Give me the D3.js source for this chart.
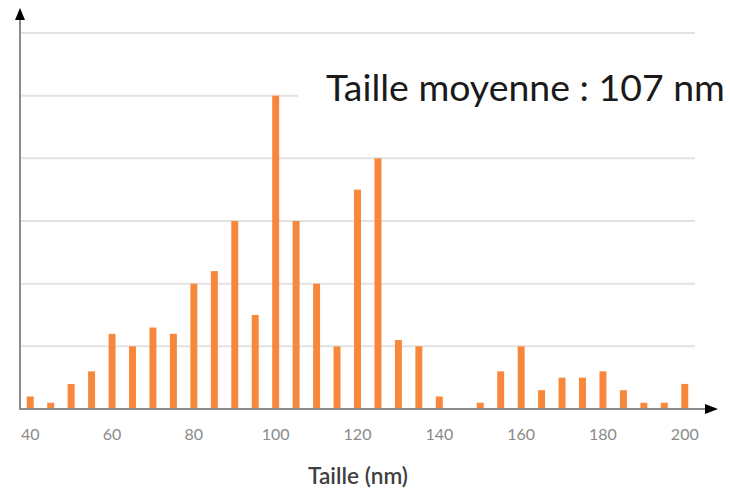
<!DOCTYPE html>
<html>
<head>
<meta charset="utf-8">
<script src="https://cdn.jsdelivr.net/npm/d3@7"></script>
<style>
  html, body { margin: 0; padding: 0; background: #fff; }
  svg { display: block; }
</style>
</head>
<body>
<svg id="chart" width="730" height="488"></svg>
<script>
// Data
const sizes = [40,45,50,55,60,65,70,75,80,85,90,95,100,105,110,115,120,125,130,135,140,145,150,155,160,165,170,175,180,185,190,195,200];
const counts = [2,1,4,6,12,10,13,12,20,22,30,15,50,30,20,10,35,40,11,10,2,0,1,6,10,3,5,5,6,3,1,1,4];
const tickLabels = [40,60,80,100,120,140,160,180,200];
const gridValues = [10,20,30,40,50,60];
const titleText = "Taille moyenne : 107 nm";
const xTitle = "Taille (nm)";

(function () {
const svg = d3.select("#chart");
const plotLeft = 20, plotRight = 695, plotBase = 409, plotTop = 33;

const x = d3.scaleBand().domain(sizes).range([plotLeft, plotRight]).paddingInner(0.66).paddingOuter(0.33);
const y = d3.scaleLinear().domain([0, 60]).range([plotBase, plotTop]);

// gridlines
svg.append("g").selectAll("line").data(gridValues).join("line")
  .attr("x1", plotLeft).attr("x2", plotRight)
  .attr("y1", d => y(d)).attr("y2", d => y(d))
  .attr("stroke", "#e2e2e2").attr("stroke-width", 2);

// bars
svg.append("g").selectAll("rect").data(sizes).join("rect")
  .attr("x", d => x(d))
  .attr("width", x.bandwidth())
  .attr("y", (d, i) => y(counts[i]))
  .attr("height", (d, i) => plotBase - y(counts[i]))
  .attr("fill", "#f7873a");

// title box (white, hides grid behind)
const tg = svg.append("g");
tg.append("rect").attr("x", 298).attr("y", 58).attr("width", 432).attr("height", 62).attr("fill", "#fff");
const tt = tg.append("text")
  .attr("x", 326).attr("y", 101)
  .attr("font-family", "Lato, 'Open Sans', sans-serif")
  .attr("font-size", 36)
  .attr("fill", "#1a1a1a")
  .text(titleText);
const w = tt.node().getComputedTextLength();
tt.attr("font-size", 36 * 399 / w);

// axes lines
svg.append("line").attr("x1", plotLeft).attr("x2", plotLeft).attr("y1", 18).attr("y2", plotBase + 1)
  .attr("stroke", "#8c8c8c").attr("stroke-width", 2);
svg.append("line").attr("x1", plotLeft - 1).attr("x2", 706).attr("y1", plotBase).attr("y2", plotBase)
  .attr("stroke", "#8c8c8c").attr("stroke-width", 2);
// arrows
svg.append("path").attr("d", `M${plotLeft - 5},20 L${plotLeft},8 L${plotLeft + 5},20 Z`).attr("fill", "#000");
svg.append("path").attr("d", `M705,${plotBase - 5} L718,${plotBase} L705,${plotBase + 5} Z`).attr("fill", "#000");

// x tick labels via axis
const xAxis = d3.axisBottom(x).tickValues(tickLabels).tickSize(0).tickPadding(0);
const gx = svg.append("g").attr("transform", `translate(0,${plotBase + 19.5})`).call(xAxis);
gx.select(".domain").remove();
gx.selectAll("text")
  .attr("font-family", "Lato, 'Open Sans', sans-serif")
  .attr("font-size", 16)
  .attr("fill", "#8a8a8a");

// x axis title
const at = svg.append("text")
  .attr("x", 358).attr("y", 483.5)
  .attr("text-anchor", "middle")
  .attr("font-family", "Lato, 'Open Sans', sans-serif")
  .attr("font-weight", 600)
  .attr("font-size", 20)
  .attr("fill", "#404040")
  .text(xTitle);
const aw = at.node().getComputedTextLength();
at.attr("font-size", 20 * 100 / aw);
})();
</script>
</body>
</html>
